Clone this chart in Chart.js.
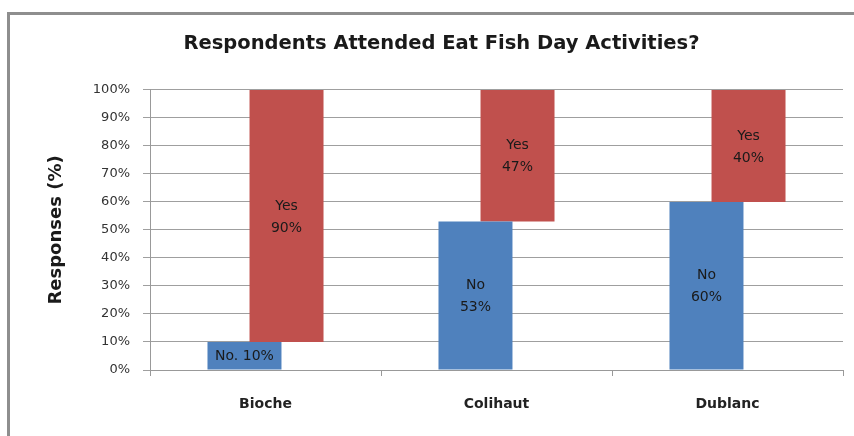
<!DOCTYPE html>
<html>
<head>
<meta charset="utf-8">
<script src="https://cdn.jsdelivr.net/npm/chart.js@4.4.1/dist/chart.umd.min.js"></script>
<style>
  html, body { margin: 0; padding: 0; background: #fff; overflow: hidden; }
  #frame { position: absolute; left: 7px; top: 12px; width: 900px; height: 500px;
           border-left: 3px solid #8e8e8e; border-top: 3px solid #8e8e8e; }
  #chart { position: absolute; left: 0; top: 0; }
</style>
</head>
<body>
<div id="frame"></div>
<canvas id="chart" width="854" height="436"></canvas>
<script>
const categories = ['Bioche', 'Colihaut', 'Dublanc'];
const noValues = [10, 53, 60];
const yesValues = [90, 47, 40];
const yTicks = [0, 10, 20, 30, 40, 50, 60, 70, 80, 90, 100];

const FONT = '"DejaVu Sans", sans-serif';

// writes "No\n53%" inside each bar, one line when the bar is short
const barLabels = {
    id: 'barLabels',
    afterDatasetsDraw(chart) {
        const ctx = chart.ctx;
        ctx.save();
        ctx.fillStyle = '#1a1a1a';
        ctx.font = '14px ' + FONT;
        ctx.textAlign = 'center';
        ctx.textBaseline = 'middle';
        chart.data.datasets.forEach((ds, i) => {
            const meta = chart.getDatasetMeta(i);
            const values = i === 0 ? noValues : yesValues;
            meta.data.forEach((bar, j) => {
                const { x, y, base } = bar.getProps(['x', 'y', 'base'], true);
                const cy = (y + base) / 2;
                const h = Math.abs(base - y);
                if (h < 40) {
                    ctx.fillText(ds.label + '. ' + values[j] + '%', x, cy + 1);
                } else {
                    ctx.fillText(ds.label, x, cy - 10);
                    ctx.fillText(values[j] + '%', x, cy + 12);
                }
            });
        });
        ctx.restore();
    }
};

new Chart(document.getElementById('chart'), {
    type: 'bar',
    data: {
        labels: categories,
        datasets: [
            {
                label: 'No',
                data: noValues.map(v => [0, v]),
                backgroundColor: '#4f81bd',
                categoryPercentage: 0.364,
                barPercentage: 1.76
            },
            {
                label: 'Yes',
                data: yesValues.map((v, i) => [noValues[i], noValues[i] + v]),
                backgroundColor: '#c0504d',
                categoryPercentage: 0.364,
                barPercentage: 1.76
            }
        ]
    },
    options: {
        responsive: false,
        animation: false,
        devicePixelRatio: 1,
        layout: { padding: { left: 40, right: 11, top: 0, bottom: 0 } },
        plugins: {
            legend: { display: false },
            tooltip: { enabled: false },
            title: {
                display: true,
                text: 'Respondents Attended Eat Fish Day Activities?',
                color: '#1a1a1a',
                font: { family: FONT, size: 19.5, weight: 'bold' },
                padding: { top: 32, bottom: 34.5 }
            }
        },
        scales: {
            x: {
                offset: true,
                grid: { display: true, drawOnChartArea: false, offset: true, tickLength: 6, color: '#999' },
                border: { color: '#999' },
                ticks: { color: '#222', padding: 20, maxRotation: 0, font: { family: FONT, size: 14, weight: 'bold' } },
                afterFit(scale) { scale.height = 66; }
            },
            y: {
                min: 0,
                max: 100,
                afterBuildTicks(scale) { scale.ticks = yTicks.map(v => ({ value: v })); },
                grid: { color: '#9f9f9f', tickLength: 7 },
                border: { color: '#999' },
                ticks: {
                    color: '#333',
                    padding: 13,
                    font: { family: FONT, size: 13 },
                    callback: v => v + '%'
                },
                title: {
                    display: true,
                    text: 'Responses (%)',
                    color: '#1a1a1a',
                    font: { family: FONT, size: 18, weight: 'bold' },
                    padding: { top: 6, bottom: 0 }
                },
                afterFit(scale) { scale.width = 110; }
            }
        }
    },
    plugins: [barLabels]
});
</script>
</body>
</html>
